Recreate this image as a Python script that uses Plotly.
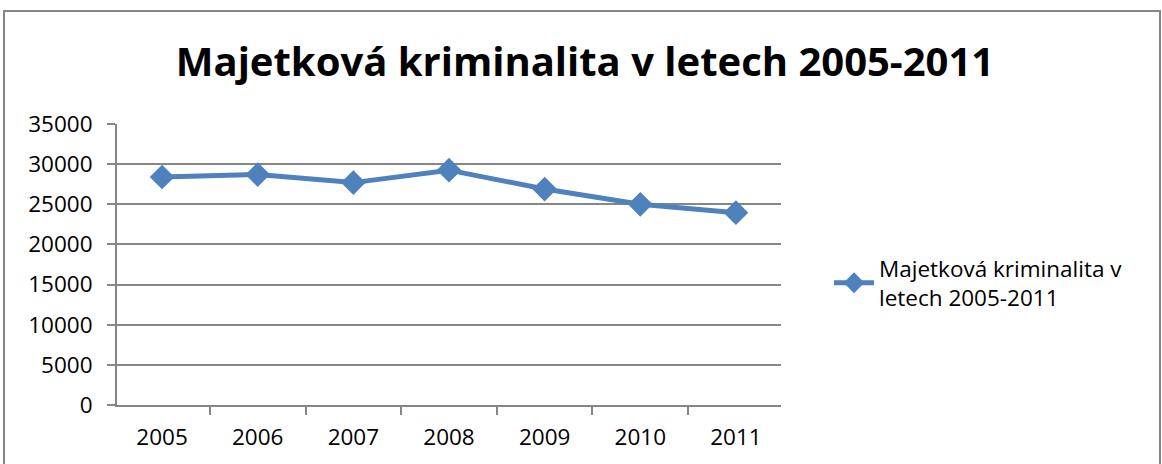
import plotly.graph_objects as go

years = ["2005", "2006", "2007", "2008", "2009", "2010", "2011"]
values = [28400, 28700, 27700, 29250, 26900, 25000, 23950]
series_name = "Majetková kriminalita v<br>letech 2005-2011"
title_text = "Majetková kriminalita v letech 2005-2011"
y_ticks = [0, 5000, 10000, 15000, 20000, 25000, 30000, 35000]
y_tick_labels = [str(v) for v in y_ticks]

W, H = 1162, 464
L, R, T, B = 117, 781, 124, 405
pw, ph = R - L, B - T

def px(x):
    return (x - L) / pw

def py(y):
    return (B - y) / ph

FONT = "Open Sans"

fig = go.Figure()
fig.add_trace(go.Scatter(
    x=years, y=values, name=series_name, mode="lines+markers",
    line=dict(color="#4F81BD", width=5),
    marker=dict(symbol="diamond", size=19, color="#4F81BD"),
))

fig.update_layout(
    width=W, height=H,
    margin=dict(l=L, r=W - R, t=T, b=H - B),
    paper_bgcolor="white", plot_bgcolor="white",
    font=dict(family=FONT, color="black", size=22),
    title=dict(text="<b>" + title_text + "</b>", x=585 / W, xanchor="center",
               y=1 - 62 / H, yanchor="middle",
               font=dict(family=FONT, size=40, color="black")),
    showlegend=True,
    legend=dict(x=px(829), y=py(283), xanchor="left", yanchor="middle",
                font=dict(size=22.5, family=FONT), bgcolor="rgba(0,0,0,0)",
                itemwidth=40),
    xaxis=dict(type="category", showgrid=False, showline=True, linecolor="#868686",
               linewidth=2, ticks="outside", tickson="boundaries", ticklen=8,
               tickcolor="#868686", tickwidth=1.5, tickfont=dict(size=22.5),
               ticklabelstandoff=11, zeroline=False),
    yaxis=dict(range=[0, 35000], tickvals=y_ticks, ticktext=y_tick_labels,
               showgrid=True, gridcolor="#868686",
               gridwidth=2, showline=True, linecolor="#868686", linewidth=2,
               ticks="outside", ticklen=8, tickcolor="#868686", tickwidth=1.5,
               tickfont=dict(size=22.5), ticklabelstandoff=10, zeroline=False),
)

fig.add_shape(type="rect", xref="paper", yref="paper",
              x0=px(4), x1=px(1160), y0=py(475), y1=py(11),
              line=dict(color="#868686", width=2), fillcolor="rgba(0,0,0,0)", layer="below")

fig.write_html("out.html", config={"displayModeBar": False},
               post_script="document.body.style.margin='0';document.body.style.overflow='hidden';")
